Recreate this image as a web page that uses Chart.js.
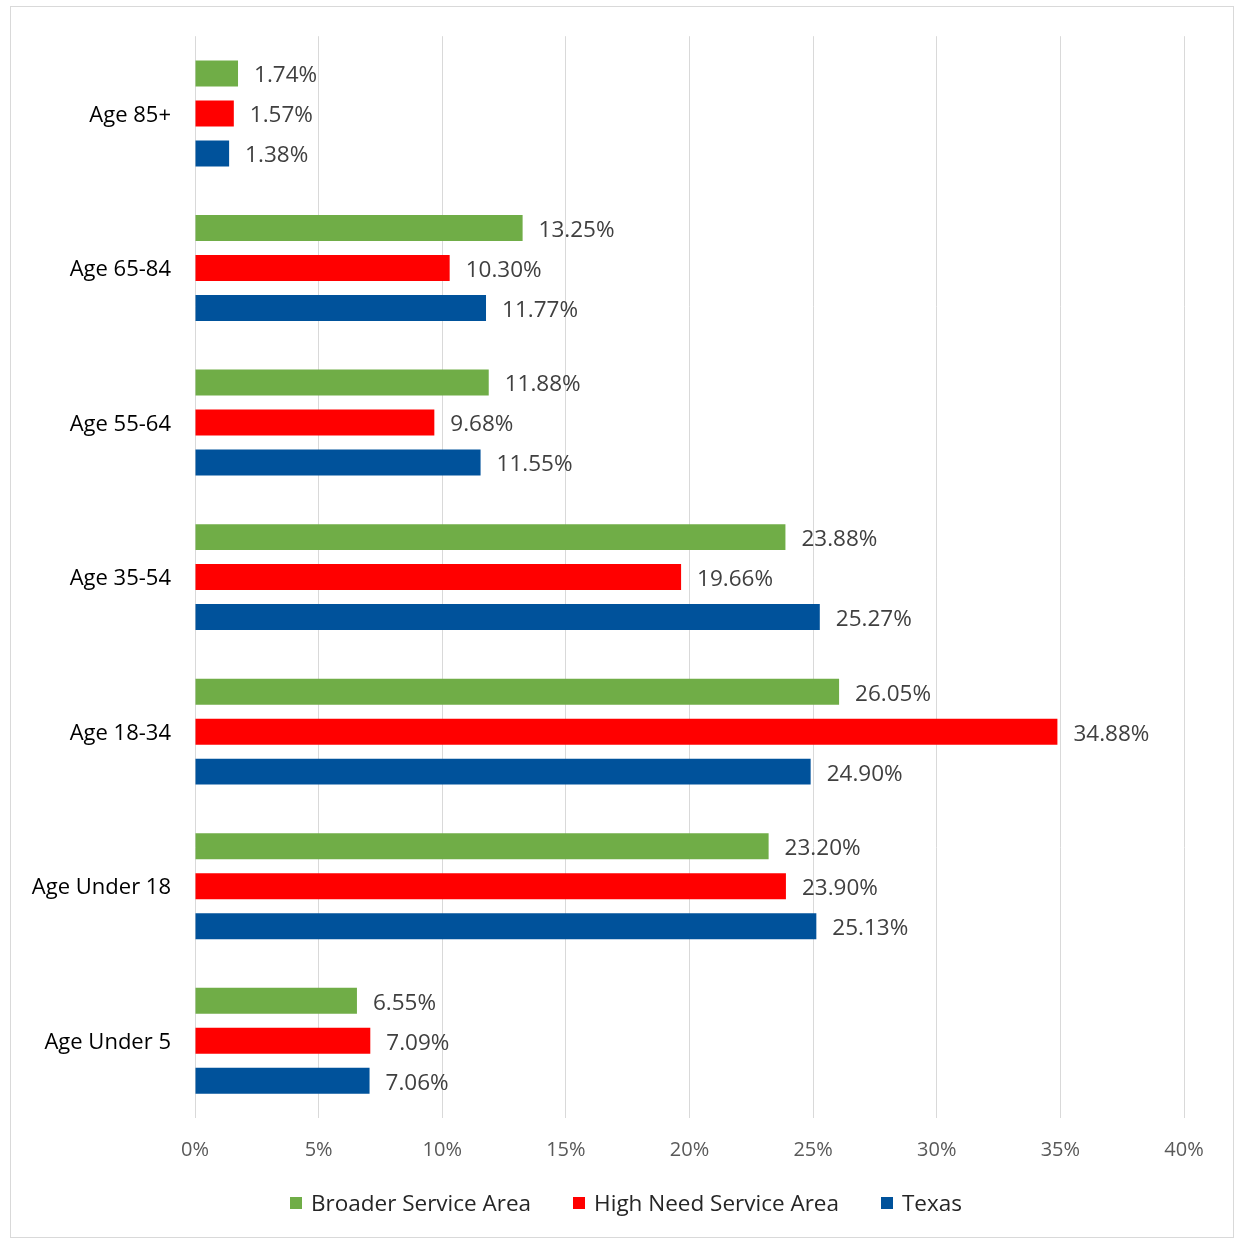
<!DOCTYPE html>
<html>
<head>
<meta charset="utf-8">
<script src="https://cdn.jsdelivr.net/npm/chart.js@4"></script>
<style>
  body { margin: 0; background: #fff; }
  #frame {
    position: absolute; left: 10px; top: 6px;
    width: 1222px; height: 1230px;
    border: 1px solid #d9d9d9;
  }
  #chartBox { position: absolute; left: 0; top: 0; width: 1222px; height: 1230px; }
  #legend {
    position: absolute; left: 8px; right: 0; top: 1181px;
    display: flex; justify-content: center; gap: 42px;
    font: 22.5px/30px 'Open Sans', sans-serif; color: #262626;
  }
  #legend .item { display: flex; align-items: center; white-space: nowrap; }
  #legend .box { width: 12px; height: 12px; margin-right: 9px; }
</style>
</head>
<body>
<div id="frame">
  <div id="chartBox"><canvas id="chart"></canvas></div>
  <div id="legend"></div>
</div>
<script>
// age groups, top to bottom
const categories = ['Age 85+', 'Age 65-84', 'Age 55-64', 'Age 35-54', 'Age 18-34', 'Age Under 18', 'Age Under 5'];
const seriesNames = ['Broader Service Area', 'High Need Service Area', 'Texas'];
const broaderValues = [1.74, 13.25, 11.88, 23.88, 26.05, 23.20, 6.55];
const highNeedValues = [1.57, 10.30, 9.68, 19.66, 34.88, 23.90, 7.09];
const texasValues = [1.38, 11.77, 11.55, 25.27, 24.90, 25.13, 7.06];
const xTicks = [0, 5, 10, 15, 20, 25, 30, 35, 40];

const FONT = "'Open Sans', sans-serif";

// simple value labels to the right of each bar
const barLabels = {
  id: 'barLabels',
  afterDatasetsDraw(chart) {
    const ctx = chart.ctx;
    ctx.save();
    ctx.font = '22.5px ' + FONT;
    ctx.fillStyle = '#404040';
    ctx.textBaseline = 'middle';
    ctx.textAlign = 'left';
    chart.data.datasets.forEach((ds, i) => {
      const meta = chart.getDatasetMeta(i);
      meta.data.forEach((bar, j) => {
        ctx.fillText(ds.data[j].toFixed(2) + '%', bar.x + 16, bar.y + 2.5);
      });
    });
    ctx.restore();
  }
};

const chart = new Chart(document.getElementById('chart'), {
  type: 'bar',
  data: {
    labels: categories,
    datasets: [
      { label: seriesNames[0], data: broaderValues, backgroundColor: '#70ad47' },
      { label: seriesNames[1], data: highNeedValues, backgroundColor: '#ff0000' },
      { label: seriesNames[2], data: texasValues, backgroundColor: '#00529b' }
    ]
  },
  options: {
    indexAxis: 'y',
    responsive: true,
    maintainAspectRatio: false,
    animation: false,
    categoryPercentage: 0.776,
    barPercentage: 0.65,
    layout: { padding: { top: 24, right: 49, bottom: 69, left: 0 } },
    plugins: {
      tooltip: { enabled: false },
      legend: { display: false }
    },
    scales: {
      x: {
        min: 0,
        max: 40,
        afterBuildTicks(scale) {
          scale.ticks = xTicks.map(v => ({ value: v }));
        },
        afterFit(scale) { scale.height = 50; },
        grid: { color: '#d9d9d9', drawTicks: false },
        border: { display: false },
        ticks: {
          padding: 20,
          color: '#595959',
          font: { family: FONT, size: 20 },
          callback: v => v + '%'
        }
      },
      y: {
        afterFit(scale) { scale.width = 184; },
        grid: { display: false },
        border: { display: false },
        ticks: {
          padding: 16,
          labelOffset: 2,
          color: '#000000',
          font: { family: FONT, size: 22 }
        }
      }
    }
  },
  plugins: [barLabels]
});

// legend built from the chart's datasets
const legendEl = document.getElementById('legend');
chart.data.datasets.forEach(ds => {
  const item = document.createElement('div');
  item.className = 'item';
  item.innerHTML = '<span class="box" style="background:' + ds.backgroundColor + '"></span>' + ds.label;
  legendEl.appendChild(item);
});
</script>
</body>
</html>
